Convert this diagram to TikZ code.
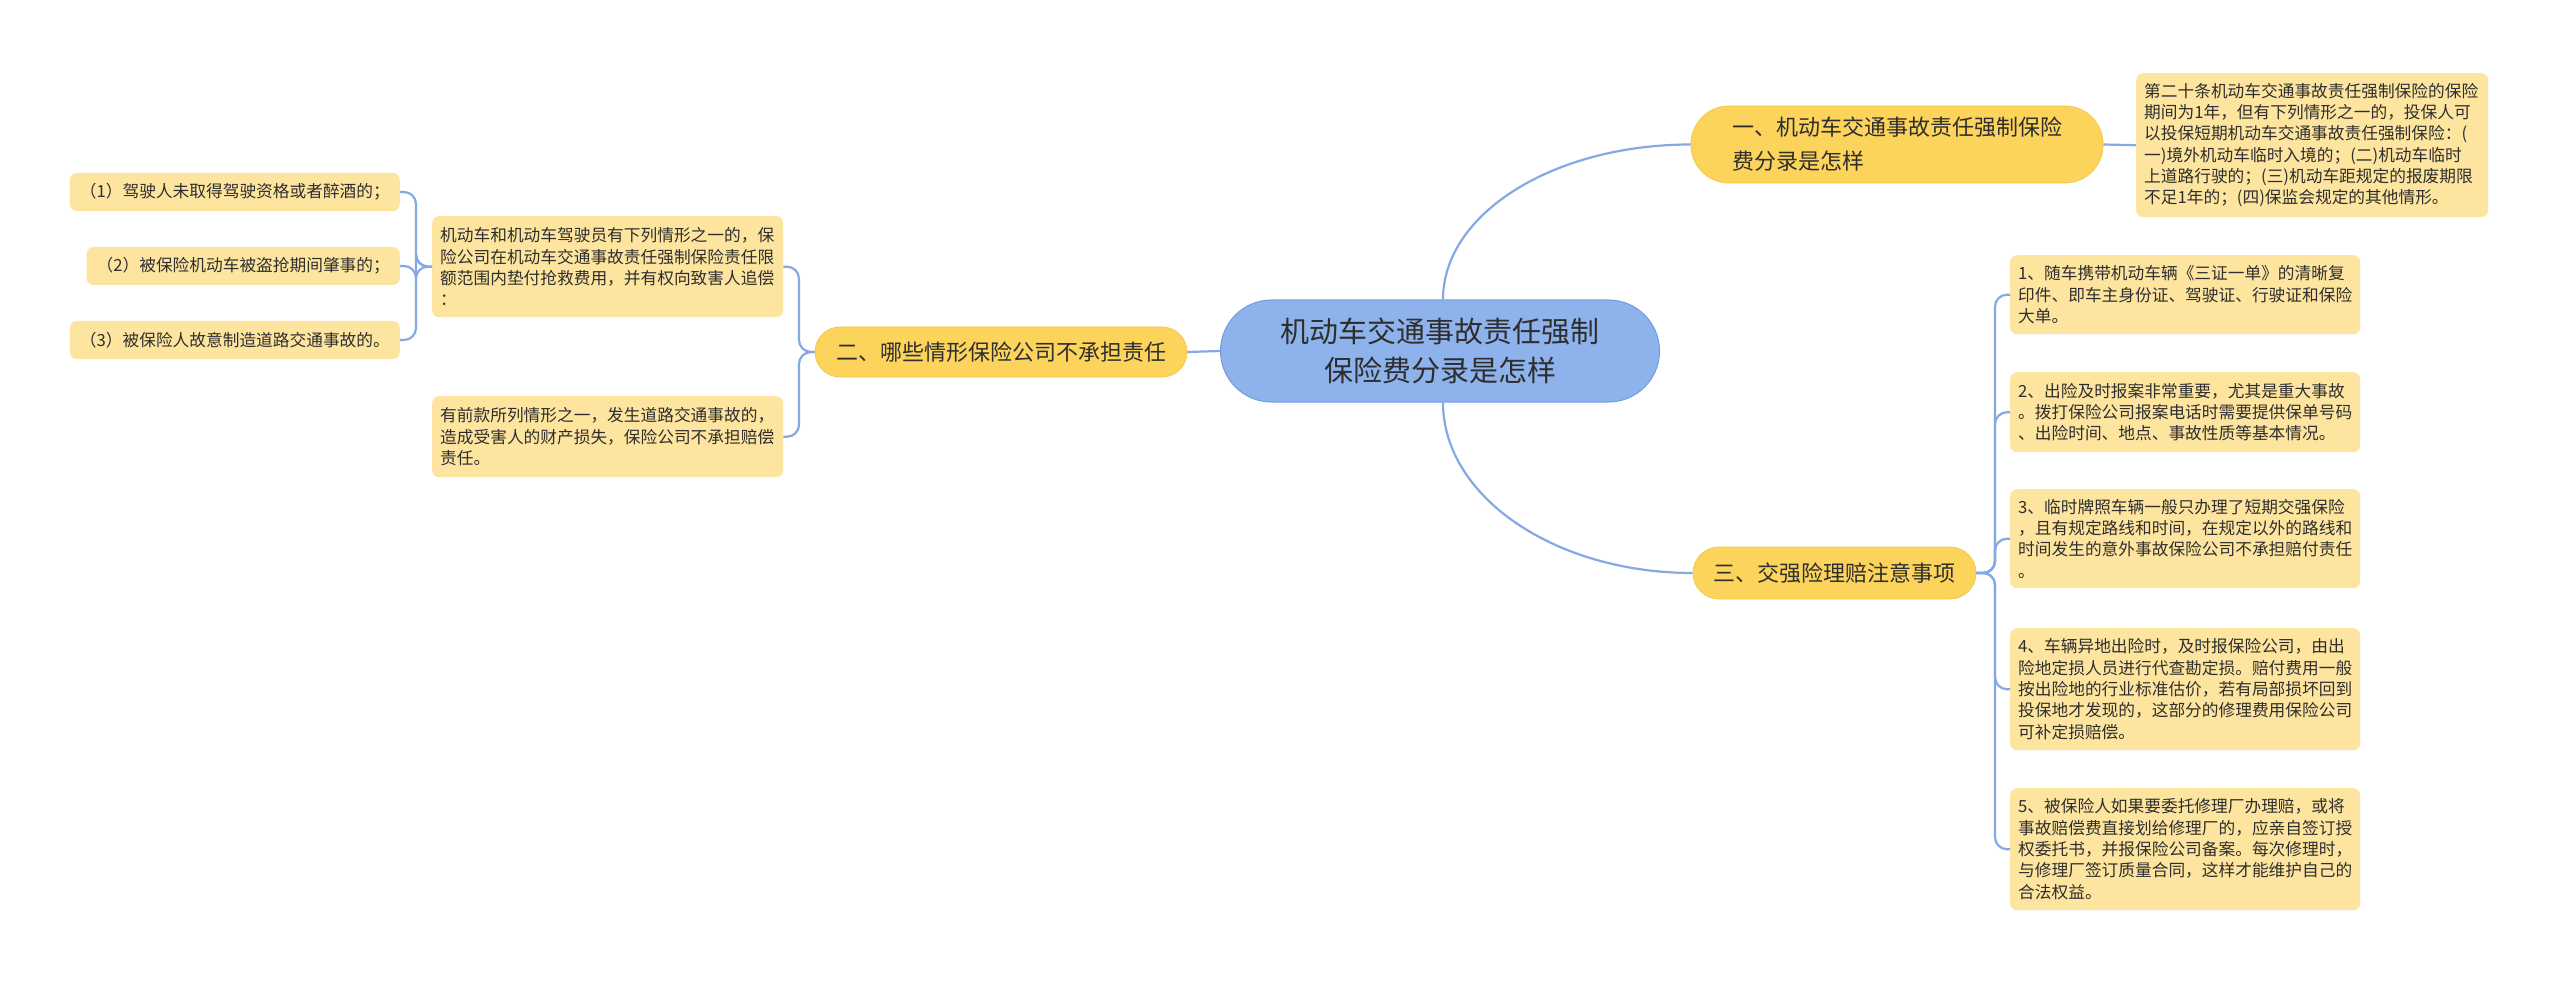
\documentclass[tikz,border=0pt]{standalone}
\usepackage{fontspec}
\setmainfont{Noto Sans CJK SC}
\definecolor{leafc}{HTML}{FEE59F}
\definecolor{branchc}{HTML}{FCD35B}
\definecolor{branchb}{HTML}{F3C84A}
\definecolor{rootc}{HTML}{8EB3EC}
\definecolor{rootb}{HTML}{729BDF}
\definecolor{linec}{HTML}{86A8E3}
\definecolor{txt}{HTML}{2E2E2E}
\begin{document}
\begin{tikzpicture}[x=1pt,y=-1pt,
  leaf/.style={fill=leafc, rounded corners=7pt, text=txt, font=\fontsize{16.7}{21.3}\selectfont, align=left, inner xsep=8pt, inner ysep=0pt, anchor=north west},
  item/.style={fill=leafc, rounded corners=7pt, text=txt, font=\fontsize{16.7}{21.3}\selectfont, inner xsep=10pt, inner ysep=0pt, minimum height=38pt, anchor=east},
  branch/.style={fill=branchc, draw=branchb, line width=0.8pt, text=txt, font=\fontsize{22}{34}\selectfont, align=left, inner sep=0pt},
  root/.style={fill=rootc, draw=rootb, line width=1pt, text=txt, font=\fontsize{29}{39}\selectfont, align=center, inner sep=0pt, minimum width=439pt, minimum height=102pt, rounded corners=51pt},
  conn/.style={draw=linec, line width=2.2pt, rounded corners=12pt}
]
\fill[white] (0,0) rectangle (2560,984);
\useasboundingbox (0,0) rectangle (2560,984);

% root
\node[root] (root) at (1440,351) {机动车交通事故责任强制\\保险费分录是怎样};

% branches
\node[branch, minimum width=412pt, minimum height=77pt, rounded corners=38pt] (B1) at (1897,144.5) {一、机动车交通事故责任强制保险\\费分录是怎样};
\node[branch, minimum width=372pt, minimum height=50pt, rounded corners=25pt] (B2) at (1001,352) {二、哪些情形保险公司不承担责任};
\node[branch, minimum width=283pt, minimum height=52pt, rounded corners=26pt] (B3) at (1834.5,573) {三、交强险理赔注意事项};

% leaves of branch 1
\node[leaf, text width=336pt, minimum height=144pt] (L1) at (2136,73) {第二十条机动车交通事故责任强制保险的保险\\期间为1年，但有下列情形之一的，投保人可\\以投保短期机动车交通事故责任强制保险：(\\一)境外机动车临时入境的；(二)机动车临时\\上道路行驶的；(三)机动车距规定的报废期限\\不足1年的；(四)保监会规定的其他情形。};

% leaves of branch 2
\node[leaf, text width=335pt, minimum height=101pt] (LA) at (432,216) {机动车和机动车驾驶员有下列情形之一的，保\\险公司在机动车交通事故责任强制保险责任限\\额范围内垫付抢救费用，并有权向致害人追偿\\：};
\node[leaf, text width=335pt, minimum height=81pt] (LB) at (432,396) {有前款所列情形之一，发生道路交通事故的，\\造成受害人的财产损失，保险公司不承担赔偿\\责任。};

\node[item] (I1) at (400,192) {（1）驾驶人未取得驾驶资格或者醉酒的；};
\node[item] (I2) at (400,266) {（2）被保险机动车被盗抢期间肇事的；};
\node[item] (I3) at (400,340) {（3）被保险人故意制造道路交通事故的。};

% leaves of branch 3
\node[leaf, text width=334pt, minimum height=79pt] (L31) at (2010,255) {1、随车携带机动车辆《三证一单》的清晰复\\印件、即车主身份证、驾驶证、行驶证和保险\\大单。};
\node[leaf, text width=334pt, minimum height=80pt] (L32) at (2010,372) {2、出险及时报案非常重要，尤其是重大事故\\。拨打保险公司报案电话时需要提供保单号码\\、出险时间、地点、事故性质等基本情况。};
\node[leaf, text width=334pt, minimum height=99pt] (L33) at (2010,489) {3、临时牌照车辆一般只办理了短期交强保险\\，且有规定路线和时间，在规定以外的路线和\\时间发生的意外事故保险公司不承担赔付责任\\。};
\node[leaf, text width=334pt, minimum height=122pt] (L34) at (2010,628) {4、车辆异地出险时，及时报保险公司，由出\\险地定损人员进行代查勘定损。赔付费用一般\\按出险地的行业标准估价，若有局部损坏回到\\投保地才发现的，这部分的修理费用保险公司\\可补定损赔偿。};
\node[leaf, text width=334pt, minimum height=122pt] (L35) at (2010,788) {5、被保险人如果要委托修理厂办理赔，或将\\事故赔偿费直接划给修理厂的，应亲自签订授\\权委托书，并报保险公司备案。每次修理时，\\与修理厂签订质量合同，这样才能维护自己的\\合法权益。};

% connectors
\coordinate (rt) at ([xshift=3pt]root.north);
\coordinate (rb) at ([xshift=3pt]root.south);
\draw[conn] (rt) .. controls ([yshift=86pt]rt) and ([xshift=-137pt]B1.west) .. (B1.west);
\draw[conn] (rb) .. controls ([yshift=-94pt]rb) and ([xshift=-138pt]B3.west) .. (B3.west);
\draw[conn] (root.west) -- (B2.east);
\draw[conn] (B1.east) -- (L1.west);

\coordinate (b2j) at (799,352);
\foreach \c in {LA,LB} \draw[conn] (B2.west) -- (b2j) |- (\c.east);
\coordinate (laj) at (416,266.5);
\foreach \c in {I1,I2,I3} \draw[conn] (LA.west) -- (laj) |- (\c.east);
\coordinate (b3j) at (1995,573);
\foreach \c in {L31,L32,L33,L34,L35} \draw[conn] (B3.east) -- (b3j) |- (\c.west);
\end{tikzpicture}
\end{document}
